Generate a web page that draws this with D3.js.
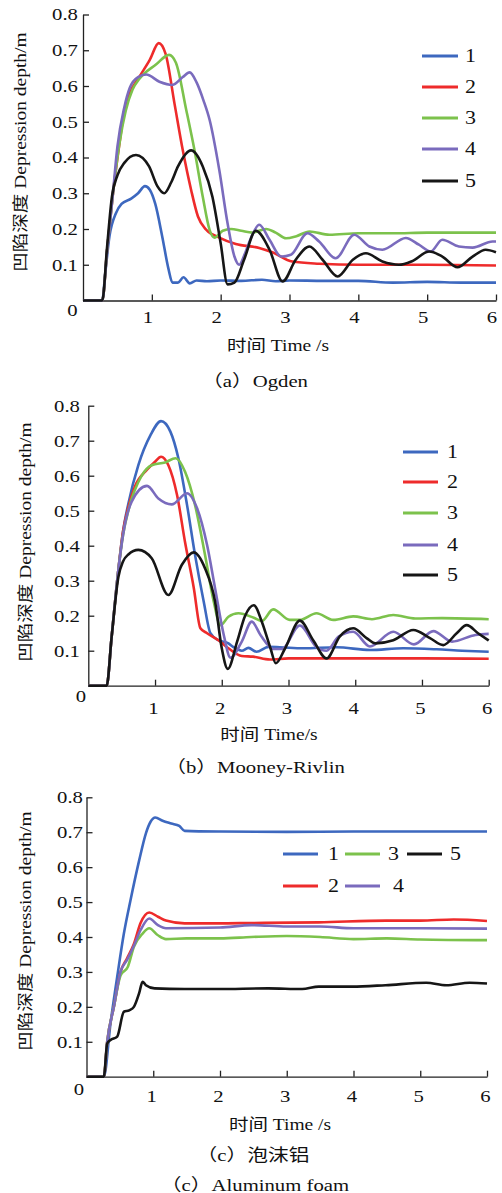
<!DOCTYPE html>
<html lang="zh">
<head>
<meta charset="UTF-8">
<title>凹陷深度 Depression depth</title>
<script src="https://d3js.org/d3.v7.min.js"></script>
<style>
  body { margin: 0; background: #fff; }
  svg text { font-family: "Liberation Serif", "Noto Sans CJK SC", serif; fill: #111; }
</style>
</head>
<body>
<svg id="chart" width="502" height="1193"></svg>
<script>
// ---- data: [time s, depth m] ----
const ogden1 = [[0,0],[0.28,0],[0.32,0.07],[0.385,0.18],[0.48,0.245],[0.56,0.27],[0.7,0.285],[0.8,0.3],[0.9,0.32],[0.97,0.31],[1.05,0.27],[1.15,0.18],[1.24,0.09],[1.3,0.05],[1.38,0.05],[1.46,0.065],[1.55,0.048],[1.65,0.056],[1.8,0.054],[2.0,0.056],[2.3,0.055],[2.6,0.058],[2.8,0.054],[3.0,0.056],[3.5,0.055],[4.0,0.055],[4.5,0.05],[5.0,0.052],[5.5,0.05],[6,0.05]];
const ogden2 = [[0,0],[0.28,0],[0.35,0.14],[0.43,0.29],[0.53,0.44],[0.6,0.53],[0.68,0.58],[0.82,0.626],[0.97,0.673],[1.1,0.72],[1.2,0.69],[1.33,0.55],[1.45,0.42],[1.57,0.31],[1.67,0.235],[1.79,0.198],[1.98,0.176],[2.22,0.158],[2.56,0.147],[2.75,0.135],[3.04,0.109],[3.43,0.103],[4,0.1],[5,0.1],[6,0.098]];
const ogden3 = [[0,0],[0.28,0],[0.35,0.14],[0.43,0.29],[0.53,0.44],[0.62,0.53],[0.72,0.59],[0.82,0.62],[1.06,0.66],[1.25,0.687],[1.35,0.665],[1.5,0.533],[1.62,0.42],[1.74,0.29],[1.84,0.197],[1.91,0.176],[2.03,0.195],[2.15,0.2],[2.3,0.195],[2.46,0.19],[2.66,0.2],[2.8,0.19],[2.95,0.174],[3.1,0.18],[3.29,0.193],[3.58,0.184],[4,0.188],[4.5,0.188],[5,0.19],[5.5,0.19],[6,0.19]];
const ogden4 = [[0,0],[0.28,0],[0.35,0.14],[0.43,0.29],[0.5,0.43],[0.6,0.54],[0.68,0.595],[0.8,0.625],[0.92,0.632],[1.11,0.612],[1.3,0.603],[1.45,0.625],[1.55,0.638],[1.65,0.61],[1.75,0.56],[1.84,0.505],[1.98,0.365],[2.1,0.216],[2.2,0.123],[2.27,0.1],[2.35,0.13],[2.44,0.175],[2.56,0.212],[2.71,0.17],[2.88,0.123],[3.02,0.128],[3.26,0.188],[3.43,0.165],[3.67,0.118],[3.94,0.184],[4.16,0.151],[4.35,0.142],[4.69,0.175],[4.88,0.156],[5.05,0.137],[5.22,0.17],[5.46,0.151],[5.66,0.148],[5.95,0.165],[6,0.165]];
const ogden5 = [[0,0],[0.28,0],[0.35,0.15],[0.42,0.29],[0.5,0.35],[0.6,0.385],[0.77,0.407],[0.96,0.375],[1.08,0.32],[1.18,0.3],[1.28,0.33],[1.38,0.375],[1.57,0.42],[1.74,0.375],[1.88,0.29],[2.0,0.16],[2.1,0.045],[2.2,0.05],[2.34,0.114],[2.51,0.195],[2.71,0.142],[2.9,0.053],[3.09,0.114],[3.29,0.151],[3.48,0.114],[3.7,0.067],[3.92,0.114],[4.11,0.132],[4.35,0.109],[4.59,0.1],[4.78,0.11],[5.03,0.137],[5.22,0.123],[5.44,0.093],[5.66,0.123],[5.85,0.142],[6,0.135]];

const mooney1 = [[0,0],[0.275,0],[0.35,0.14],[0.45,0.33],[0.52,0.44],[0.6,0.52],[0.75,0.63],[0.93,0.715],[1.09,0.756],[1.23,0.726],[1.35,0.65],[1.48,0.516],[1.6,0.373],[1.73,0.24],[1.83,0.15],[1.95,0.13],[2.1,0.121],[2.17,0.111],[2.3,0.1],[2.4,0.108],[2.52,0.097],[2.7,0.111],[2.87,0.11],[3.22,0.107],[3.72,0.11],[4.22,0.102],[4.72,0.107],[5.22,0.104],[5.6,0.1],[6,0.097]];
const mooney2 = [[0,0],[0.275,0],[0.35,0.14],[0.45,0.33],[0.52,0.44],[0.6,0.51],[0.7,0.57],[0.88,0.617],[1.0,0.64],[1.09,0.654],[1.2,0.63],[1.33,0.545],[1.45,0.41],[1.58,0.28],[1.68,0.164],[1.78,0.15],[1.95,0.13],[2.1,0.107],[2.3,0.085],[2.47,0.083],[2.72,0.075],[3.0,0.078],[3.5,0.078],[4,0.078],[5,0.078],[6,0.077]];
const mooney3 = [[0,0],[0.275,0],[0.35,0.14],[0.45,0.33],[0.52,0.43],[0.6,0.5],[0.8,0.6],[0.95,0.63],[1.15,0.638],[1.31,0.65],[1.45,0.611],[1.6,0.516],[1.75,0.373],[1.88,0.24],[1.98,0.173],[2.1,0.197],[2.25,0.207],[2.48,0.194],[2.6,0.185],[2.77,0.218],[3.02,0.188],[3.17,0.188],[3.42,0.207],[3.67,0.188],[3.97,0.198],[4.25,0.19],[4.57,0.202],[4.9,0.192],[5.3,0.193],[6,0.19]];
const mooney4 = [[0,0],[0.275,0],[0.35,0.14],[0.45,0.33],[0.52,0.43],[0.65,0.526],[0.88,0.571],[1.05,0.535],[1.25,0.518],[1.48,0.55],[1.63,0.507],[1.78,0.402],[1.9,0.278],[2.03,0.145],[2.13,0.08],[2.3,0.126],[2.45,0.183],[2.58,0.145],[2.77,0.105],[2.9,0.105],[3.17,0.172],[3.42,0.11],[3.57,0.1],[3.75,0.14],[3.97,0.154],[4.22,0.112],[4.57,0.154],[4.88,0.118],[5.17,0.156],[5.45,0.126],[5.8,0.145],[6,0.148]];
const mooney5 = [[0,0],[0.275,0],[0.35,0.14],[0.45,0.31],[0.52,0.355],[0.6,0.375],[0.75,0.388],[0.95,0.364],[1.2,0.259],[1.4,0.345],[1.58,0.381],[1.75,0.335],[1.9,0.24],[2.0,0.107],[2.09,0.048],[2.23,0.126],[2.35,0.2],[2.48,0.23],[2.6,0.183],[2.73,0.107],[2.81,0.064],[2.95,0.107],[3.17,0.186],[3.37,0.13],[3.57,0.078],[3.77,0.141],[3.97,0.164],[4.17,0.136],[4.3,0.121],[4.57,0.13],[4.87,0.159],[5.12,0.136],[5.32,0.116],[5.52,0.15],[5.67,0.173],[5.84,0.15],[6,0.129]];

const foam1 = [[0,0],[0.26,0],[0.36,0.153],[0.46,0.286],[0.56,0.41],[0.66,0.506],[0.79,0.62],[0.89,0.697],[0.96,0.73],[1.03,0.742],[1.14,0.733],[1.27,0.725],[1.39,0.718],[1.47,0.704],[2,0.702],[3,0.701],[4,0.702],[5,0.702],[6,0.702]];
const foam2 = [[0,0],[0.26,0],[0.31,0.1],[0.41,0.2],[0.51,0.3],[0.61,0.34],[0.71,0.38],[0.81,0.44],[0.94,0.47],[1.07,0.458],[1.19,0.447],[1.47,0.439],[1.97,0.439],[2.47,0.44],[3.48,0.442],[4.49,0.447],[5.0,0.447],[5.5,0.45],[6,0.446]];
const foam3 = [[0,0],[0.26,0],[0.31,0.1],[0.41,0.2],[0.51,0.29],[0.62,0.315],[0.71,0.372],[0.84,0.41],[0.94,0.425],[1.07,0.405],[1.19,0.394],[1.5,0.396],[2,0.396],[2.47,0.4],[3,0.403],[3.5,0.4],[4,0.394],[4.5,0.396],[5,0.393],[6,0.391]];
const foam4 = [[0,0],[0.26,0],[0.31,0.1],[0.41,0.2],[0.51,0.3],[0.61,0.335],[0.71,0.375],[0.81,0.42],[0.94,0.453],[1.07,0.434],[1.19,0.425],[2,0.427],[2.47,0.434],[3,0.43],[3.5,0.43],[4,0.425],[5,0.425],[6,0.424]];
const foam5 = [[0,0],[0.26,0],[0.31,0.095],[0.36,0.105],[0.46,0.115],[0.56,0.186],[0.64,0.19],[0.71,0.2],[0.79,0.24],[0.84,0.272],[0.89,0.262],[1.02,0.253],[1.47,0.251],[1.97,0.251],[2.72,0.253],[3.23,0.251],[3.48,0.258],[3.98,0.258],[4.48,0.262],[5.09,0.269],[5.39,0.262],[5.74,0.269],[6,0.267]];

const seriesNames = ["1", "2", "3", "4", "5"];
const colors = ["#3d68bf", "#ee2b2b", "#7cc24c", "#7a6bbd", "#161616"];
const xTicks = [1, 2, 3, 4, 5, 6];
const yTicks = [0.1, 0.2, 0.3, 0.4, 0.5, 0.6, 0.7, 0.8];
const xTitles = ["时间 Time /s", "时间 Time/s", "时间 Time /s"];
const yTitle = "凹陷深度 Depression depth/m";
const captions = [["（a）Ogden"], ["（b）Mooney-Rivlin"], ["（c）泡沫铝", "（c）Aluminum foam"]];

// text in the figure is set horizontally widened
const SX = 1.22;

const svg = d3.select("#chart");

function label(g, x, y, str, size, anchor, rotate) {
    return g.append("text")
        .attr("transform", `translate(${x},${y})` + (rotate ? " rotate(-90)" : "") + ` scale(${SX},1)`)
        .attr("text-anchor", anchor || "middle")
        .attr("dominant-baseline", "central")
        .style("font-size", size + "px")
        .text(str);
}

// layout for each panel
const panels = [
    { data: [ogden1, ogden2, ogden3, ogden4, ogden5], xr: [83, 496], yr: [300.5, 14.5],
      yLabX: 78, xLabDy: 17, xLabShift: -4, zero: [72.5, 310], titleX: [278, 346], yTitle: [21, 152],
      caps: [[255, 381]], legend: "col", leg: { x1: 422, x2: 458, tx: 465, ys: [56, 87, 118, 149, 181] } },
    { data: [mooney1, mooney2, mooney3, mooney4, mooney5], xr: [88.3, 488.7], yr: [685.7, 405.7],
      yLabX: 80, xLabDy: 22, xLabShift: -1.5, zero: [81, 696], titleX: [269, 735], yTitle: [26, 542],
      caps: [[255, 767]], legend: "col", leg: { x1: 403, x2: 438, tx: 447, ys: [452, 482, 513, 545, 575] } },
    { data: [foam1, foam2, foam3, foam4, foam5], xr: [86.5, 487], yr: [1076.7, 797.3],
      yLabX: 83, xLabDy: 19, xLabShift: -1.5, zero: [79, 1089], titleX: [280, 1125], yTitle: [26, 931],
      caps: [[253, 1155], [255, 1185]], legend: "grid",
      leg: { items: [[283, 318, 328, 854], [283, 318, 328, 886], [345, 380, 388, 854], [345, 380, 393, 886], [407, 442, 450, 854]] } }
];

panels.forEach((p, pi) => {
    const g = svg.append("g");
    const x = d3.scaleLinear().domain([0, 6]).range(p.xr);
    const y = d3.scaleLinear().domain([0, 0.8]).range(p.yr);

    // axes, ticks pointing inward
    g.append("g")
        .attr("transform", `translate(0,${y(0)})`)
        .call(d3.axisBottom(x).tickValues(xTicks).tickSize(-6).tickSizeOuter(0).tickFormat(""));
    g.append("g")
        .attr("transform", `translate(${x(0)},0)`)
        .call(d3.axisLeft(y).tickValues(yTicks).tickSize(-6).tickSizeOuter(0).tickFormat(""));
    g.selectAll(".domain, .tick line").attr("stroke", "#222").attr("stroke-width", 1.3);

    yTicks.forEach(v => label(g, p.yLabX, y(v), v.toFixed(1), 17, "end"));
    xTicks.forEach(t => label(g, x(t) + p.xLabShift, y(0) + p.xLabDy, String(t), 17));
    label(g, p.zero[0], p.zero[1], "0", 17);

    label(g, p.titleX[0], p.titleX[1], xTitles[pi], 16);
    label(g, p.yTitle[0], p.yTitle[1], yTitle, 16, "middle", true);
    p.caps.forEach((c, ci) => label(g, c[0], c[1], captions[pi][ci], 17));

    // curves
    const line = d3.line()
        .x(d => x(d[0]))
        .y(d => y(d[1]))
        .curve(d3.curveMonotoneX);
    p.data.forEach((s, i) => {
        g.append("path")
            .datum(s)
            .attr("d", line)
            .attr("fill", "none")
            .attr("stroke", colors[i])
            .attr("stroke-width", 2.6)
            .attr("stroke-linejoin", "round");
    });

    // legend
    const lg = g.append("g");
    if (p.legend === "col") {
        p.leg.ys.forEach((ly, i) => {
            lg.append("line").attr("x1", p.leg.x1).attr("x2", p.leg.x2).attr("y1", ly).attr("y2", ly)
                .attr("stroke", colors[i]).attr("stroke-width", 3.2);
            label(lg, p.leg.tx, ly, seriesNames[i], 18, "start");
        });
    } else {
        p.leg.items.forEach((it, i) => {
            lg.append("line").attr("x1", it[0]).attr("x2", it[1]).attr("y1", it[3]).attr("y2", it[3])
                .attr("stroke", colors[i]).attr("stroke-width", 3.2);
            label(lg, it[2], it[3], seriesNames[i], 18, "start");
        });
    }
});
</script>
</body>
</html>
